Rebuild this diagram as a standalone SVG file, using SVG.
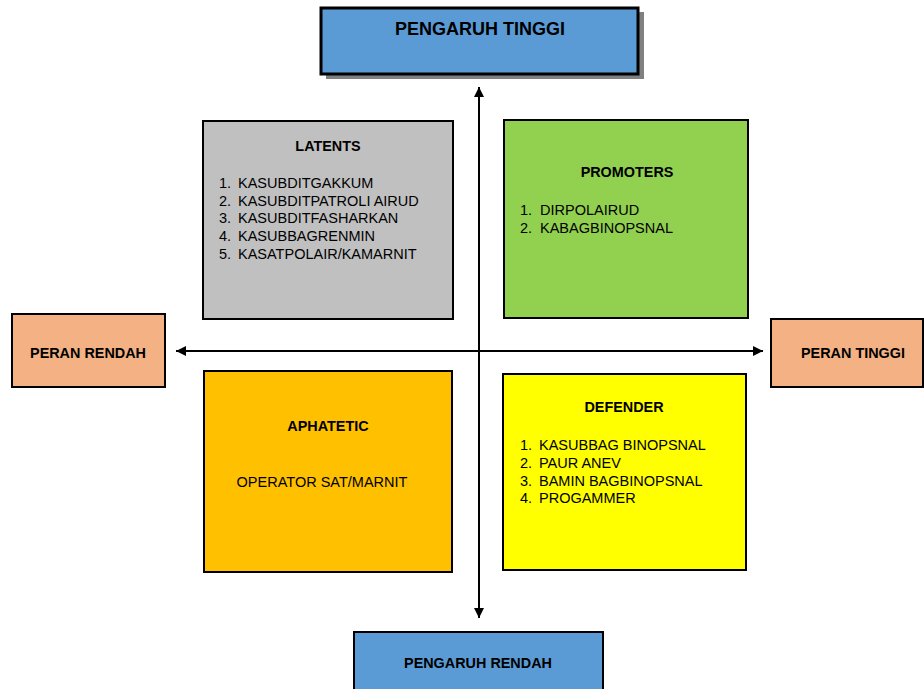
<svg xmlns="http://www.w3.org/2000/svg" width="924" height="689" viewBox="0 0 924 689">
<defs>
<style>
.box{stroke:#000;stroke-width:2}
.t{font-family:"Liberation Sans",Arial,sans-serif;font-weight:bold;font-size:14.4px;fill:#000;text-anchor:middle}
.i{font-family:"Liberation Sans",Arial,sans-serif;font-size:14.5px;fill:#000}
.ln{stroke:#000;stroke-width:2;fill:none}
</style>
<marker id="ah" viewBox="0 0 10 10" refX="10" refY="5" markerWidth="5" markerHeight="5" orient="auto" markerUnits="strokeWidth">
<path d="M0,0 L10,5 L0,10 z" fill="#000"/>
</marker>
</defs>
<rect width="924" height="689" fill="#fff"/>
<g id="connectors">
<line class="ln" x1="479" y1="351" x2="479" y2="87" marker-end="url(#ah)"/>
<line class="ln" x1="479" y1="351" x2="479" y2="618" marker-end="url(#ah)"/>
<line class="ln" x1="479" y1="351" x2="176" y2="351" marker-end="url(#ah)"/>
<line class="ln" x1="479" y1="351" x2="763" y2="351" marker-end="url(#ah)"/>
</g>
<g id="pengaruh-tinggi">
<rect x="326" y="12" width="318" height="67" fill="#808080"/>
<rect x="321" y="8" width="317" height="66" fill="#5b9bd5" stroke="#000" stroke-width="3"/>
<text class="t" x="480" y="35" style="font-size:18px">PENGARUH TINGGI</text>
</g>
<g id="latents">
<rect class="box" x="203" y="121" width="250" height="198" fill="#c0c0c0"/>
<text class="t" x="328" y="151">LATENTS</text>
<text class="i" x="219" y="188">1.</text><text class="i" x="238" y="188">KASUBDITGAKKUM</text>
<text class="i" x="219" y="206">2.</text><text class="i" x="238" y="206">KASUBDITPATROLI AIRUD</text>
<text class="i" x="219" y="223">3.</text><text class="i" x="238" y="223">KASUBDITFASHARKAN</text>
<text class="i" x="219" y="241">4.</text><text class="i" x="238" y="241">KASUBBAGRENMIN</text>
<text class="i" x="219" y="259">5.</text><text class="i" x="238" y="259">KASATPOLAIR/KAMARNIT</text>
</g>
<g id="promoters">
<rect class="box" x="504" y="120" width="244" height="198" fill="#92d050"/>
<text class="t" x="627" y="177">PROMOTERS</text>
<text class="i" x="520" y="215">1.</text><text class="i" x="540" y="215">DIRPOLAIRUD</text>
<text class="i" x="520" y="233">2.</text><text class="i" x="540" y="233">KABAGBINOPSNAL</text>
</g>
<g id="peran-rendah">
<rect class="box" x="12" y="314" width="153" height="73" fill="#f4b183"/>
<text class="t" x="88" y="358">PERAN RENDAH</text>
</g>
<g id="peran-tinggi">
<rect class="box" x="771" y="319" width="152" height="68" fill="#f4b183"/>
<text class="t" x="853" y="358">PERAN TINGGI</text>
</g>
<g id="aphatetic">
<rect class="box" x="204" y="371" width="248" height="201" fill="#ffc000"/>
<text class="t" x="328" y="431">APHATETIC</text>
<text class="i" x="322" y="487" text-anchor="middle">OPERATOR SAT/MARNIT</text>
</g>
<g id="defender">
<rect class="box" x="503" y="374" width="243" height="196" fill="#ffff00"/>
<text class="t" x="624" y="412">DEFENDER</text>
<text class="i" x="520" y="450">1.</text><text class="i" x="539" y="450">KASUBBAG BINOPSNAL</text>
<text class="i" x="520" y="468">2.</text><text class="i" x="539" y="468">PAUR ANEV</text>
<text class="i" x="520" y="486">3.</text><text class="i" x="539" y="486">BAMIN BAGBINOPSNAL</text>
<text class="i" x="520" y="503">4.</text><text class="i" x="539" y="503">PROGAMMER</text>
</g>
<g id="pengaruh-rendah">
<rect class="box" x="354" y="632" width="249" height="62" fill="#5b9bd5"/>
<text class="t" x="478" y="668">PENGARUH RENDAH</text>
</g>
</svg>
